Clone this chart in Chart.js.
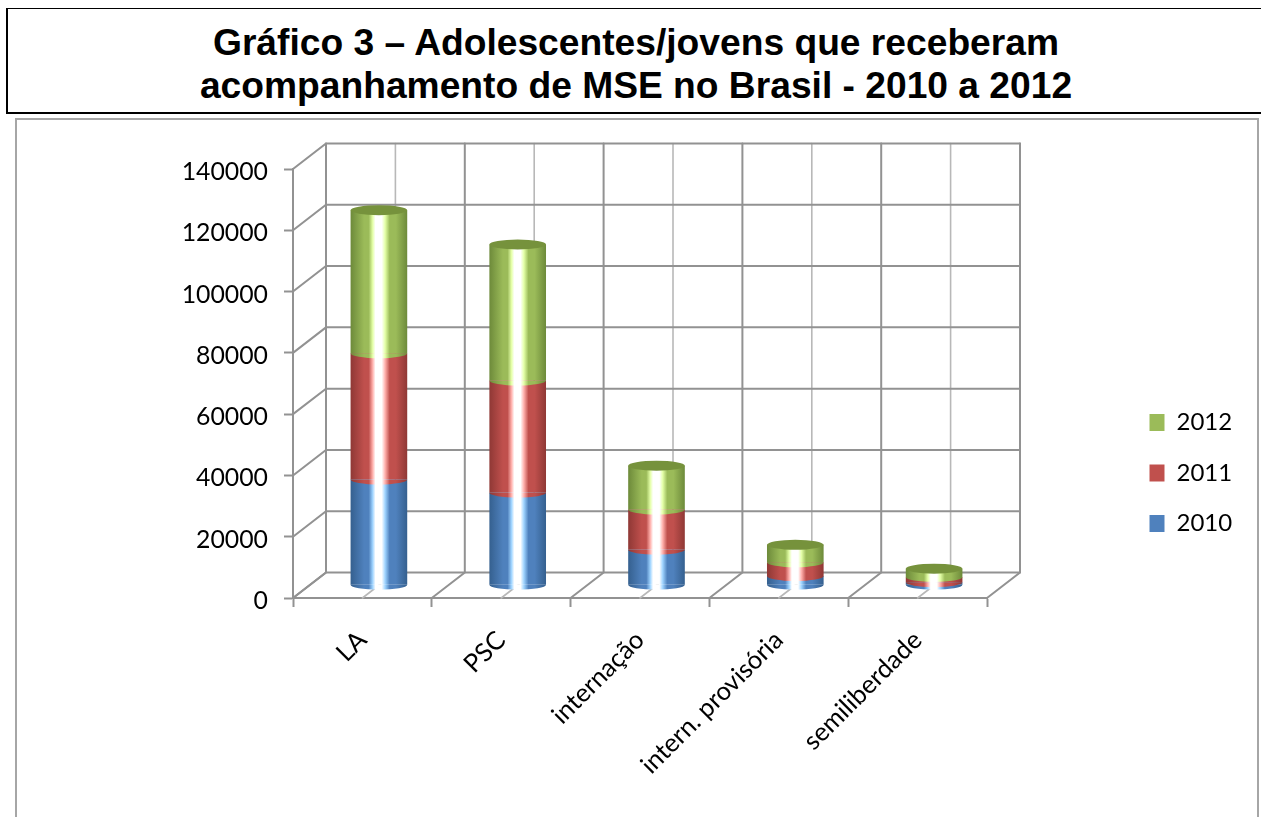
<!DOCTYPE html>
<html lang="pt">
<head>
<meta charset="utf-8">
<title>Gráfico 3</title>
<script src="https://cdn.jsdelivr.net/npm/chart.js@4/dist/chart.umd.js"></script>
<style>
    html, body { margin: 0; padding: 0; background: #fff; width: 1261px; height: 817px; overflow: hidden; }
    #titulo {
        position: absolute; left: 6px; top: 8px; width: 1256px; height: 103px;
        border: 2px solid #000; border-top-width: 1.5px; box-sizing: content-box;
        font: bold 37.2px "Liberation Sans", Arial, sans-serif; line-height: 43px;
        text-align: center; color: #000; padding-top: 0;
    }
    #titulo div { padding-top: 12px; }
    #moldura {
        position: absolute; left: 15px; top: 118px; width: 1240px; height: 760px;
        border: 2px solid #a6a6a6;
    }
    #grafico { position: absolute; left: 0; top: 0; }
</style>
</head>
<body>
<div id="titulo"><div>Gráfico 3 – Adolescentes/jovens que receberam<br>acompanhamento de MSE no Brasil - 2010 a 2012</div></div>
<div id="moldura"></div>
<canvas id="grafico" width="1261" height="817"></canvas>
<script>
var categorias = ['LA', 'PSC', 'internação', 'intern. provisória', 'semiliberdade'];
var valores2010 = [34500, 30200, 11600, 3000, 1000];
var valores2011 = [41200, 36600, 13100, 4500, 1700];
var valores2012 = [46700, 44400, 14300, 5700, 2700];

// profundidade do efeito 3D
var DX = 33, DY = 25.5;
var RAIO_Y = 5;
var LARGURA_BARRA = 0.408;

var coresCilindro = {
    '2010': { base: '#4f81bd', escuro: '#35608f', claro: '#9fd4ff' },
    '2011': { base: '#c0504d', escuro: '#8f3835', claro: '#ffb0ac' },
    '2012': { base: '#9bbb59', escuro: '#6d8a3a', claro: '#e4ffa8' }
};

function gradienteCilindro(ctx, x, meia, cores) {
    var g = ctx.createLinearGradient(x - meia, 0, x + meia, 0);
    g.addColorStop(0, cores.escuro);
    g.addColorStop(0.24, cores.base);
    g.addColorStop(0.32, cores.base);
    g.addColorStop(0.39, cores.claro);
    g.addColorStop(0.44, '#ffffff');
    g.addColorStop(0.55, '#ffffff');
    g.addColorStop(0.61, cores.claro);
    g.addColorStop(0.69, cores.base);
    g.addColorStop(0.8, cores.base);
    g.addColorStop(1, cores.escuro);
    return g;
}

function corBarra(context) {
    var chart = context.chart;
    if (!chart.chartArea) return '#888';
    var escala = chart.scales.x;
    var meia = escala.width / categorias.length * LARGURA_BARRA / 2;
    var x = escala.getPixelForValue(context.dataIndex);
    return gradienteCilindro(chart.ctx, x, meia, coresCilindro[context.dataset.label]);
}

var cilindro3D = {
    id: 'cilindro3D',
    afterLayout: function (chart) {
        // legenda fora da area do grafico
        var l = chart.legend;
        l.left = 1123;
        l.right = 1261;
        l.top = 384;
        l.bottom = 800;
        // rotulos do eixo y um pouco mais baixos, como no original
        var ys = chart.scales.y;
        if (!ys._ajustado) {
            var original = ys._computeLabelItems;
            ys._computeLabelItems = function (area) {
                var itens = original.call(this, area);
                itens.forEach(function (it) { it.textOffset += 3; });
                return itens;
            };
            ys._ajustado = true;
        }
    },
    beforeDatasetsDraw: function (chart) {
        var ctx = chart.ctx, xs = chart.scales.x, ys = chart.scales.y;
        var a = chart.chartArea;
        var passo = (a.right - a.left) / categorias.length;
        var topo = a.top - DY, fundo = a.bottom - DY;
        ctx.save();
        ctx.lineCap = 'round';

        // linhas claras no meio de cada categoria
        ctx.strokeStyle = '#b8b8b8';
        ctx.lineWidth = 1.6;
        for (var i = 0; i < categorias.length; i++) {
            var xm = xs.getPixelForValue(i);
            ctx.beginPath();
            ctx.moveTo(xm + DX, topo);
            ctx.lineTo(xm + DX, fundo);
            ctx.moveTo(xm, a.bottom);
            ctx.lineTo(xm + DX, fundo);
            ctx.stroke();
        }

        ctx.strokeStyle = '#929292';
        ctx.lineWidth = 2;
        ys.ticks.forEach(function (t) {
            var y = ys.getPixelForValue(t.value);
            ctx.beginPath();
            ctx.moveTo(a.left, y);
            ctx.lineTo(a.left + DX, y - DY);
            ctx.lineTo(a.right + DX, y - DY);
            ctx.stroke();
        });
        for (var j = 0; j <= categorias.length; j++) {
            var xb = a.left + passo * j;
            ctx.beginPath();
            ctx.moveTo(xb + DX, topo);
            ctx.lineTo(xb + DX, fundo);
            ctx.lineTo(xb, a.bottom);
            ctx.stroke();
        }
        ctx.restore();

        // os cilindros ficam no meio da profundidade
        ctx.save();
        ctx.translate(DX / 2, -DY / 2);
    },
    afterDatasetsDraw: function (chart) {
        var ctx = chart.ctx;
        chart.data.datasets.forEach(function (ds, d) {
            var cores = coresCilindro[ds.label];
            chart.getDatasetMeta(d).data.forEach(function (bar) {
                var meia = bar.width / 2;
                // curva inferior de cada segmento
                ctx.beginPath();
                ctx.ellipse(bar.x, bar.base, meia, RAIO_Y, 0, 0, Math.PI);
                ctx.closePath();
                ctx.fillStyle = gradienteCilindro(ctx, bar.x, meia, cores);
                ctx.fill();
                if (d === chart.data.datasets.length - 1) {
                    // tampa do cilindro
                    ctx.beginPath();
                    ctx.ellipse(bar.x, bar.y, meia, RAIO_Y, 0, 0, Math.PI * 2);
                    ctx.fillStyle = '#76923c';
                    ctx.fill();
                }
            });
        });
        ctx.restore();
    }
};

function serie(rotulo, dados) {
    return {
        label: rotulo,
        data: dados,
        backgroundColor: corBarra,
        borderWidth: 0,
        clip: false,
        categoryPercentage: 1,
        barPercentage: LARGURA_BARRA
    };
}

var ctx = document.getElementById('grafico').getContext('2d');
window.grafico = new Chart(ctx, {
    type: 'bar',
    data: {
        labels: categorias,
        datasets: [serie('2010', valores2010), serie('2011', valores2011), serie('2012', valores2012)]
    },
    plugins: [cilindro3D],
    options: {
        responsive: false,
        animation: false,
        layout: { padding: { top: 169, right: 274, left: 0, bottom: 0 } },
        font: { family: 'Lato' },
        plugins: {
            tooltip: { enabled: false },
            legend: {
                position: 'chartArea',
                align: 'start',
                reverse: true,
                labels: {
                    boxWidth: 15,
                    boxHeight: 17,
                    padding: 26.5,
                    color: '#000',
                    font: { family: 'Lato', size: 24 },
                    generateLabels: function (chart) {
                        return chart.data.datasets.map(function (ds, i) {
                            return {
                                text: ds.label,
                                fillStyle: coresCilindro[ds.label].base,
                                lineWidth: 0,
                                strokeStyle: 'transparent',
                                datasetIndex: i
                            };
                        });
                    }
                }
            }
        },
        scales: {
            x: {
                stacked: true,
                afterFit: function (s) { s.height = 219; },
                grid: { offset: true, drawOnChartArea: false, color: '#929292', tickColor: '#929292', tickLength: 9, tickWidth: 2 },
                border: { color: '#929292', width: 2 },
                ticks: {
                    minRotation: 45,
                    maxRotation: 45,
                    autoSkip: false,
                    padding: 18,
                    color: '#000',
                    font: { family: 'Lato', size: 25.5 }
                }
            },
            y: {
                stacked: true,
                min: 0,
                max: 140000,
                afterFit: function (s) { s.width = 293; },
                grid: { drawOnChartArea: false, color: '#929292', tickColor: '#929292', tickLength: 9, tickWidth: 2 },
                border: { color: '#929292', width: 2 },
                ticks: {
                    stepSize: 20000,
                    padding: 16,
                    color: '#000',
                    font: { family: 'Lato', size: 24.8 },
                    callback: function (v) { return String(v); }
                }
            }
        }
    }
});
</script>
</body>
</html>
